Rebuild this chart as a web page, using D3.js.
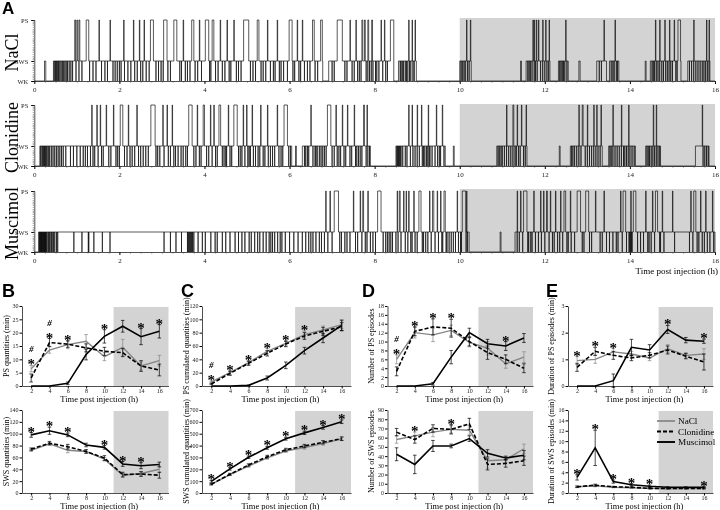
<!DOCTYPE html>
<html><head><meta charset="utf-8">
<script src="https://cdn.jsdelivr.net/npm/d3@7"></script>
<style>body{margin:0;background:#fff}svg{display:block;will-change:transform}</style>
</head><body>
<script>
// ---------------- DATA ----------------
const hours = [2,4,6,8,10,12,14,16];
const hypnoTicks = [0,2,4,6,8,10,12,14,16];
const stateLabels = ["WK","SWS","PS"];
const groups = ["NaCl","Clonidine","Muscimol"];

// Hypnograms: sleep bouts [start,end] (h), brief wake returns (h), PS episodes [start,end] (h)
const naclBouts = [[0.24,0.27],[0.45,6.78],[6.92,8.45],[8.56,8.98],[10.0,10.27],[11.43,11.45],[11.56,12.12],[12.32,12.55],[12.8,12.83],[13.22,13.45],[13.52,13.74],[14.36,14.38],[14.48,15.2],[15.36,15.88]];
const naclWake = [0.47,0.5,0.52,0.55,0.57,0.6,0.63,0.66,0.69,0.72,0.75,0.78,0.82,0.86,0.9,0.98,1.05,1.12,1.3,1.38,1.45,1.58,1.66,1.72,1.85,1.9,1.95,2.0,2.04,2.12,2.2,2.27,2.36,2.42,2.5,2.55,2.63,2.7,2.86,2.92,2.98,3.03,3.08,3.14,3.2,3.3,3.42,3.46,3.55,3.6,3.66,3.78,3.84,3.93,4.05,4.08,4.12,4.15,4.26,4.32,4.42,4.48,4.58,4.62,4.75,4.8,4.86,4.95,5.08,5.14,5.2,5.33,5.38,5.44,5.55,5.62,5.66,5.72,5.76,5.8,5.86,5.95,6.04,6.08,6.12,6.22,6.26,6.35,6.42,6.48,6.6,6.66,7.0,7.05,7.3,7.35,7.47,7.52,7.6,7.64,7.68,7.72,7.77,7.8,7.84,7.88,7.92,7.96,8.02,8.05,8.1,8.19,8.26,8.3,8.6,8.62,8.65,8.68,8.72,8.75,8.78,8.82,8.85,8.9,8.93,8.96,10.03,10.06,10.1,10.13,10.18,10.22,11.6,11.63,11.66,11.7,11.75,11.78,11.82,11.86,11.9,11.95,12.0,12.05,12.09,12.35,12.38,12.41,12.44,12.47,12.52,13.28,13.33,13.4,13.56,13.6,13.63,13.68,13.71,14.52,14.55,14.58,14.62,14.66,14.7,14.75,14.79,14.84,14.88,14.92,14.96,15.0,15.05,15.08,15.11,15.14,15.17,15.4,15.45,15.5,15.55,15.6,15.65,15.7,15.74,15.78,15.82,15.86];
const naclPS = [[0.95,0.97],[1.0,1.02],[1.05,1.07],[1.22,1.28],[1.52,1.53],[1.78,1.79],[2.1,2.11],[2.33,2.34],[2.47,2.48],[2.58,2.59],[2.73,2.8],[3.04,3.12],[3.28,3.35],[3.5,3.51],[3.7,3.75],[3.88,3.89],[4.02,4.1],[4.18,4.22],[4.37,4.38],[4.53,4.54],[4.69,4.7],[4.92,5.04],[5.24,5.28],[5.48,5.49],[5.71,5.72],[5.99,6.06],[6.18,6.19],[6.3,6.31],[6.54,6.58],[6.73,6.77],[7.12,7.24],[7.42,7.43],[7.56,7.57],[7.7,7.72],[7.76,7.78],[7.84,7.86],[7.93,7.95],[8.15,8.16],[8.23,8.24],[8.37,8.45],[8.8,8.81],[8.88,8.89],[8.95,8.96],[10.16,10.17],[10.25,10.26],[11.72,11.73],[11.75,11.76],[11.8,11.81],[11.85,11.86],[11.95,11.96],[12.02,12.03],[12.1,12.11],[12.49,12.5],[13.39,13.4],[13.65,13.66],[14.6,14.61],[14.7,14.71],[14.82,14.83],[14.93,14.94],[15.04,15.05],[15.13,15.19],[15.5,15.51],[15.8,15.81],[15.86,15.87]];

const clonBouts = [[0.13,6.05],[6.14,6.16],[6.3,7.9],[8.5,9.66],[9.85,9.87],[10.87,11.58],[12.34,12.36],[12.6,13.35],[13.5,14.13],[14.37,14.72],[15.54,15.86]];
const clonWake = [0.15,0.18,0.2,0.22,0.24,0.26,0.28,0.3,0.33,0.36,0.4,0.44,0.48,0.52,0.56,0.6,0.64,0.68,0.74,0.85,0.92,1.0,1.08,1.15,1.2,1.25,1.32,1.38,1.42,1.5,1.58,1.62,1.75,1.8,1.92,1.96,2.0,2.05,2.12,2.18,2.25,2.3,2.36,2.45,2.5,2.56,2.62,2.68,2.86,2.9,2.95,3.05,3.15,3.2,3.28,3.32,3.38,3.45,3.5,3.56,3.6,3.75,3.8,3.88,3.92,4.05,4.1,4.18,4.26,4.3,4.42,4.46,4.5,4.52,4.6,4.64,4.74,4.8,4.84,4.88,4.95,5.02,5.05,5.08,5.15,5.2,5.26,5.3,5.38,5.42,5.5,5.55,5.6,5.65,5.75,5.8,5.84,5.9,5.98,6.02,6.35,6.38,6.42,6.45,6.55,6.6,6.62,6.65,6.7,6.74,6.78,6.82,6.86,7.0,7.05,7.12,7.16,7.2,7.28,7.32,7.42,7.46,7.55,7.58,7.62,7.66,7.7,7.8,7.84,7.88,8.52,8.54,8.56,8.58,8.6,8.62,8.66,8.72,8.76,8.84,8.9,8.95,9.0,9.05,9.12,9.15,9.18,9.22,9.25,9.28,9.3,9.35,9.42,9.48,9.52,9.55,9.6,9.63,10.9,10.93,10.97,11.0,11.05,11.1,11.15,11.2,11.25,11.3,11.33,11.38,11.42,11.46,11.5,11.54,12.63,12.66,12.7,12.75,12.8,12.85,12.9,12.95,13.0,13.05,13.1,13.15,13.2,13.25,13.3,13.53,13.56,13.6,13.65,13.7,13.75,13.8,13.85,13.88,13.92,13.96,14.0,14.05,14.1,14.4,14.43,14.46,14.5,14.54,14.58,14.62,14.66,14.7,15.72,15.76,15.8,15.84];
const clonPS = [[1.35,1.36],[1.47,1.48],[1.55,1.56],[1.69,1.7],[1.86,1.87],[2.02,2.08],[2.21,2.22],[2.41,2.42],[2.74,2.84],[3.02,3.03],[3.12,3.13],[3.24,3.25],[3.63,3.71],[3.83,3.84],[3.97,4.0],[4.14,4.15],[4.22,4.23],[4.34,4.38],[4.56,4.57],[4.69,4.77],[4.91,4.92],[4.99,5.0],[5.12,5.13],[5.32,5.33],[5.48,5.49],[5.71,5.72],[5.87,5.95],[6.5,6.51],[6.89,6.97],[7.09,7.1],[7.24,7.25],[7.36,7.37],[7.52,7.53],[7.74,7.76],[7.82,7.83],[8.8,8.81],[8.88,8.89],[9.0,9.01],[9.1,9.11],[9.26,9.27],[9.45,9.46],[9.59,9.6],[11.1,11.11],[11.25,11.27],[11.35,11.36],[11.45,11.46],[11.56,11.57],[12.8,12.81],[12.88,12.9],[13.0,13.01],[13.15,13.16],[13.22,13.23],[13.32,13.33],[13.6,13.61],[13.8,13.81],[13.97,13.98],[14.55,14.56],[14.62,14.63],[15.7,15.71]];

const muscBouts = [[0.1,10.22],[10.95,10.97],[11.3,16]];
const muscWake = [0.12,0.13,0.14,0.15,0.16,0.17,0.18,0.19,0.2,0.21,0.22,0.23,0.24,0.25,0.26,0.27,0.28,0.3,0.33,0.35,0.37,0.4,0.42,0.45,0.48,0.52,0.55,0.93,1.12,1.27,1.28,1.4,1.6,1.78,3.05,3.2,3.33,3.46,3.6,3.62,3.64,3.66,3.68,3.7,3.72,3.75,3.85,3.95,4.02,4.15,4.25,4.3,4.42,4.5,4.6,4.72,4.8,4.88,4.95,5.05,5.1,5.18,5.25,5.3,5.38,5.45,5.52,5.56,5.6,5.65,5.72,5.78,5.82,5.9,6.0,6.1,6.2,6.3,6.38,6.45,6.5,6.55,6.62,6.7,6.75,6.82,6.9,7.0,7.18,7.22,7.3,7.35,7.42,7.55,7.6,7.7,7.78,7.82,7.9,7.96,8.02,8.2,8.26,8.3,8.34,8.38,8.42,8.5,8.55,8.62,8.72,8.78,8.85,8.88,8.95,9.0,9.12,9.15,9.2,9.25,9.33,9.42,9.5,9.58,9.6,9.68,9.7,9.75,9.8,9.85,9.9,9.97,10.02,10.04,10.15,10.18,11.35,11.4,11.48,11.6,11.62,11.67,11.7,11.78,11.85,11.92,12.0,12.1,12.18,12.22,12.3,12.35,12.42,12.52,12.55,12.62,12.7,12.88,12.92,13.05,13.1,13.3,13.35,13.45,13.52,13.6,13.68,13.72,13.82,13.92,13.98,14.0,14.01,14.04,14.05,14.18,14.25,14.32,14.42,14.45,14.5,14.58,14.7,14.72,14.8,15.05,15.4,15.48,15.58,15.62,15.7,15.75,15.82,15.88,15.97];
const muscPS = [[6.85,6.86],[6.95,6.96],[7.05,7.15],[7.5,7.51],[7.66,7.67],[7.72,7.74],[7.84,7.85],[8.07,8.15],[8.53,8.54],[8.58,8.6],[8.68,8.69],[8.74,8.75],[8.8,8.81],[8.92,8.93],[9.04,9.09],[9.29,9.3],[9.36,9.39],[9.47,9.48],[9.55,9.56],[9.63,9.66],[9.94,9.95],[10.06,10.14],[10.16,10.17],[11.35,11.36],[11.43,11.44],[11.5,11.58],[11.74,11.75],[11.9,11.91],[11.97,11.98],[12.04,12.06],[12.13,12.14],[12.25,12.26],[12.37,12.38],[12.45,12.49],[12.6,12.61],[12.76,12.84],[12.96,13.03],[13.19,13.2],[13.39,13.4],[13.78,13.79],[13.84,13.9],[14.02,14.03],[14.08,14.14],[14.37,14.38],[14.53,14.54],[14.6,14.65],[14.76,14.77],[15.0,15.01],[15.43,15.44],[15.5,15.55],[15.66,15.67],[15.78,15.79],[15.94,15.95]];

// Panel B: PS / SWS quantities (min)
const psQtyNaCl = [6.5,13.5,15.5,16.8,11,14.5,7.5,9.5];
const psQtyNaClErr = [1.2,1.2,1.5,2.5,1.5,3,1.5,2];
const psQtyClon = [3,16.3,15.7,14.3,13,12.5,7.5,6];
const psQtyClonErr = [1.5,1.5,1.2,1.5,1.5,1.5,2,2.2];
const psQtyMusc = [0,0,1,11.8,18.6,22.4,18.5,20.5];
const psQtyMuscErr = [0,0,0.5,2,2.5,2.2,3,2.5];
const swsQtyNaCl = [72,83,72,70,57,30,33,40];
const swsQtyNaClErr = [2,2,4,3,3,3,3,5];
const swsQtyClon = [74,84,78,70,59,31,32,30];
const swsQtyClonErr = [2,3,4,3,4,4,4,5];
const swsQtyMusc = [98,105,98,81,77,49,46,48];
const swsQtyMuscErr = [4,6,3,3,3,4,5,4];
// Panel C: cumulated quantities (min)
const psCumNaCl = [6,20,35,52,64,77,84,92];
const psCumNaClErr = [1,3,3,4,4,5,6,6];
const psCumClon = [3,19,34,49,63,75,82,89];
const psCumClonErr = [1,3,3,4,4,5,6,6];
const psCumMusc = [0,0,1,12,31,53,72,91];
const psCumMuscErr = [0,0,0.5,3,5,5,7,8];
const swsCumNaCl = [72,155,227,297,354,384,417,457];
const swsCumNaClErr = [5,8,10,12,12,14,14,15];
const swsCumClon = [74,158,236,306,365,396,428,458];
const swsCumClonErr = [5,8,10,12,12,14,14,15];
const swsCumMusc = [98,203,301,381,458,507,553,601];
const swsCumMuscErr = [8,10,10,12,12,14,15,15];
// Panel D: number of episodes
const psNbNaCl = [6,12,11.5,12.5,9.8,8.5,5,6.5];
const psNbNaClErr = [1,1.2,1.5,1.2,1,1.5,1,1.2];
const psNbClon = [3.3,12.3,13.3,13,10,7.5,6,4];
const psNbClonErr = [1,1,1.8,2,1,1.5,1,1];
const psNbMusc = [0,0,0.5,6.5,12,9.5,9,10.8];
const psNbMuscErr = [0,0,0.3,1.5,1,1,1,1];
const swsNbNaCl = [58,62,66,69,68,35,36,48];
const swsNbNaClErr = [4,4,5,4,5,8,3,5];
const swsNbClon = [66,58,70,69,75,31,32,35];
const swsNbClonErr = [4,4,4,5,6,6,4,5];
const swsNbMusc = [42,31,51,51,59,43,38,41];
const swsNbMuscErr = [7,10,6,2,3,4,2,5];
// Panel E: duration of episodes (min)
const psDurNaCl = [0.95,1.0,1.28,1.2,1.05,1.4,1.15,1.2];
const psDurNaClErr = [0.15,0.15,0.12,0.1,0.1,0.15,0.1,0.2];
const psDurClon = [0.7,1.3,1.15,1.05,1.15,1.35,1.12,0.9];
const psDurClonErr = [0.15,0.15,0.15,0.1,0.1,0.15,0.1,0.3];
const psDurMusc = [0,0,0.2,1.45,1.35,2.12,1.72,1.68];
const psDurMuscErr = [0,0,0.25,0.3,0.2,0.15,0.1,0.08];
const swsDurNaCl = [1.2,1.4,1.1,1.0,0.9,0.8,0.85,0.85];
const swsDurNaClErr = [0.15,0.2,0.1,0.1,0.1,0.1,0.1,0.1];
const swsDurClon = [1.2,1.5,1.2,1.1,0.9,0.9,0.9,0.9];
const swsDurClonErr = [0.15,0.2,0.1,0.1,0.1,0.1,0.1,0.1];
const swsDurMusc = [3.0,8.7,2.2,1.6,1.3,1.1,1.1,1.1];
const swsDurMuscErr = [0.5,3.4,0.3,0.2,0.2,0.1,0.1,0.1];

// significance marks (hours)
const starsPsQty=[2,4,6,10,14,16], hashPsQty=[2,4];
const starsSwsQty=[2,4,6,10,12,14], hashSwsQty=[];
const starsPsCum=[2,4,6,8,10,12], hashPsCum=[2];
const starsSwsCum=[2,4,6,8,10,12,14,16], hashSwsCum=[];
const starsPsNb=[2,4,6,8,14], hashPsNb=[2];
const starsSwsNb=[4,8], hashSwsNb=[];
const starsPsDur=[2,4,6,12,16], hashPsDur=[];
const starsSwsDur=[2,4,6,8,10,16], hashSwsDur=[];

// ---------------- DRAW ----------------
const W=720,H=510;
const serif="'Liberation Serif','Times New Roman',Times,serif";
const sans="'Liberation Sans',Arial,Helvetica,sans-serif";
const SHADE="#d3d3d3";
const svg=d3.select("body").append("svg").attr("width",W).attr("height",H)
  .style("font-family",serif);

// ---- Panel A ----
const hx=d3.scaleLinear().domain([0,16]).range([34.3,715]);
const hypnos=[
  {name:groups[0],bouts:naclBouts,wake:naclWake,ps:naclPS,y:[81,61,20],shadeTop:18},
  {name:groups[1],bouts:clonBouts,wake:clonWake,ps:clonPS,y:[166,146,105],shadeTop:104},
  {name:groups[2],bouts:muscBouts,wake:muscWake,ps:muscPS,y:[252,232,191],shadeTop:189}
];
function hypnoPoints(h){
  const pts=[[0,0]];
  h.bouts.forEach(([s,e])=>{
    pts.push([s,0],[s,1]);
    const ev=[...h.wake.filter(t=>t>s&&t<e).map(t=>({t,k:"w"})),
              ...h.ps.filter(p=>p[0]>s&&p[0]<e).map(p=>({t:p[0],e:Math.min(p[1],e),k:"p"}))]
             .sort((a,b)=>a.t-b.t);
    let psEnd=-1;
    ev.forEach(v=>{
      if(v.k==="w"){ if(v.t>psEnd) pts.push([v.t,1],[v.t,0],[v.t,1]); }
      else { pts.push([v.t,1],[v.t,2],[v.e,2],[v.e,1]); psEnd=v.e; }
    });
    pts.push([e,1],[e,0]);
  });
  pts.push([16,0]);
  return pts;
}
hypnos.forEach((h,i)=>{
  const hy=d3.scaleLinear().domain([0,1,2]).range(h.y);
  const g=svg.append("g");
  g.append("rect").attr("x",hx(10)).attr("y",h.shadeTop).attr("width",hx(16)-hx(10))
    .attr("height",h.y[0]-h.shadeTop).attr("fill",SHADE);
  g.append("path").datum(hypnoPoints(h))
    .attr("d",d3.line().x(d=>hx(d[0])).y(d=>hy(d[1])))
    .attr("fill","none").attr("stroke","#111").attr("stroke-width",0.7);
  const ax=g.append("g").attr("transform",`translate(0,${h.y[0]})`)
    .call(d3.axisBottom(hx).tickValues(hypnoTicks).tickSize(3).tickSizeOuter(0).tickFormat(d3.format("d")));
  ax.selectAll("text").attr("font-size",7).attr("font-family",serif).attr("y",6).attr("fill","#222");
  ax.select(".domain").attr("stroke","#222").attr("stroke-width",0.8);
  g.append("g").attr("transform",`translate(0,${h.y[0]})`)
    .call(d3.axisBottom(hx).tickValues(d3.range(0,16.001,0.25)).tickSize(1.8).tickFormat(""))
    .call(s=>s.select(".domain").remove()).selectAll("line").attr("stroke","#444").attr("stroke-width",0.5);
  const ya=g.append("g").attr("transform",`translate(${hx(0)},0)`)
    .call(d3.axisLeft(hy).tickValues([0,1,2]).tickSize(3).tickFormat(d=>stateLabels[d]));
  ya.selectAll("text").attr("font-size",6.5).attr("font-family",serif).attr("fill","#222");
  ya.select(".domain").attr("stroke","#222").attr("stroke-width",0.8);
  g.append("line").attr("x1",hx(0)-1).attr("x2",hx(0)-1).attr("y1",h.y[2]).attr("y2",h.y[0])
    .attr("stroke","#555").attr("stroke-width",1.2).attr("stroke-dasharray","0.6,1.2");
  g.append("text").attr("transform",`translate(18,${(h.y[0]+h.y[2])/2+2}) rotate(-90)`)
    .attr("text-anchor","middle").attr("font-size",18).text(h.name);
});
svg.append("text").attr("x",718).attr("y",274).attr("text-anchor","end").attr("font-size",9).text("Time post injection (h)");
svg.append("text").attr("x",2).attr("y",14).attr("font-family",sans).attr("font-weight","bold").attr("font-size",17).text("A");

// ---- Panels B-E ----
const series=[
  {key:"nacl",color:"#858585",dash:null,width:1.4},
  {key:"clon",color:"#000",dash:"4,2",width:1.6},
  {key:"musc",color:"#000",dash:null,width:1.6}
];
function panel(c){
  const x=d3.scaleLinear().domain([1,17]).range([c.x0,c.x1]);
  const y=d3.scaleLinear().domain([0,c.ymax]).range([c.yb,c.yt]);
  const g=svg.append("g");
  g.append("rect").attr("x",x(11)).attr("y",c.yt+1).attr("width",x(17)-x(11)).attr("height",c.yb-c.yt-1).attr("fill",SHADE);
  const ya=g.append("g").attr("transform",`translate(${c.x0},0)`)
    .call(d3.axisLeft(y).tickValues(d3.range(0,c.ymax+1e-9,c.step)).tickSize(2.5).tickSizeOuter(0).tickFormat(d3.format("~g")));
  ya.selectAll("text").attr("font-size",6).attr("font-family",serif).attr("fill","#222").attr("x",-3.5);
  ya.select(".domain").attr("stroke","#222").attr("stroke-width",0.8);
  const xa=g.append("g").attr("transform",`translate(0,${c.yb})`)
    .call(d3.axisBottom(x).tickValues(hours).tickSize(2.5).tickSizeOuter(0));
  xa.selectAll("text").attr("font-size",6).attr("font-family",serif).attr("fill","#222").attr("y",3).attr("dy","0.71em");
  xa.select(".domain").attr("stroke","#222").attr("stroke-width",0.8);
  g.append("text").attr("x",(c.x0+c.x1)/2+4).attr("y",c.yb+15.5).attr("text-anchor","middle").attr("font-size",8.5).text("Time post injection (h)");
  g.append("text").attr("transform",`translate(${c.labelX},${(c.yt+c.yb)/2}) rotate(-90)`)
    .attr("text-anchor","middle").attr("font-size",8).text(c.ylabel);
  const data=[[c.nacl,c.naclErr],[c.clon,c.clonErr],[c.musc,c.muscErr]];
  series.forEach((s,i)=>{
    const [vals,errs]=data[i];
    const pts=hours.map((h,j)=>({h,v:vals[j],e:errs[j]}));
    const eb=g.append("g").attr("stroke",s.color).attr("stroke-width",0.7);
    pts.forEach(p=>{
      if(p.e<=0) return;
      eb.append("line").attr("x1",x(p.h)).attr("x2",x(p.h)).attr("y1",y(p.v-p.e)).attr("y2",y(p.v+p.e));
      [p.v-p.e,p.v+p.e].forEach(v=>eb.append("line").attr("x1",x(p.h)-1.8).attr("x2",x(p.h)+1.8).attr("y1",y(v)).attr("y2",y(v)));
    });
    g.append("path").datum(pts).attr("d",d3.line().x(p=>x(p.h)).y(p=>y(p.v)))
      .attr("fill","none").attr("stroke",s.color).attr("stroke-width",s.width)
      .attr("stroke-dasharray",s.dash);
  });
  const top=h=>{const j=hours.indexOf(h);return Math.max(...data.map(([v,e])=>v[j]+e[j]));};
  c.stars.forEach(h=>{
    g.append("text").attr("x",x(h)).attr("y",y(top(h))+4).attr("text-anchor","middle")
      .attr("font-size",15).attr("font-weight","bold").text("*");
  });
  c.hash.forEach(h=>{
    g.append("text").attr("x",x(h)).attr("y",y(top(h))-13).attr("text-anchor","middle")
      .attr("font-size",9).attr("font-weight","bold").attr("font-style","italic").text("#");
  });
  if(c.letter) svg.append("text").attr("x",c.letterX).attr("y",297).attr("font-family",sans)
    .attr("font-weight","bold").attr("font-size",18).text(c.letter);
  if(c.legend){
    const lg=g.append("g");
    series.forEach((s,i)=>{
      const ly=421+i*10.5;
      lg.append("line").attr("x1",657).attr("x2",675).attr("y1",ly).attr("y2",ly)
        .attr("stroke",s.color).attr("stroke-width",s.width+0.3).attr("stroke-dasharray",s.dash);
      lg.append("text").attr("x",678).attr("y",ly+3.2).attr("font-size",9.2).text(groups[i]);
    });
  }
}
const TOP={yt:306,yb:386}, BOT={yt:410,yb:493};
const cols=[
  {x0:22,x1:168.5,labelX:9,letter:"B",letterX:2},
  {x0:202,x1:351,labelX:189,letter:"C",letterX:181},
  {x0:387.5,x1:533,labelX:374,letter:"D",letterX:362},
  {x0:568,x1:713,labelX:554,letter:"E",letterX:546}
];
panel({...cols[0],...TOP,ymax:30,step:5,ylabel:"PS quantities (min)",nacl:psQtyNaCl,naclErr:psQtyNaClErr,clon:psQtyClon,clonErr:psQtyClonErr,musc:psQtyMusc,muscErr:psQtyMuscErr,stars:starsPsQty,hash:hashPsQty});
panel({...cols[0],...BOT,letter:null,ymax:140,step:20,ylabel:"SWS quantities (min)",nacl:swsQtyNaCl,naclErr:swsQtyNaClErr,clon:swsQtyClon,clonErr:swsQtyClonErr,musc:swsQtyMusc,muscErr:swsQtyMuscErr,stars:starsSwsQty,hash:hashSwsQty});
panel({...cols[1],...TOP,ymax:120,step:20,ylabel:"PS cumulated quantities (min)",nacl:psCumNaCl,naclErr:psCumNaClErr,clon:psCumClon,clonErr:psCumClonErr,musc:psCumMusc,muscErr:psCumMuscErr,stars:starsPsCum,hash:hashPsCum});
panel({...cols[1],...BOT,letter:null,ymax:700,step:100,ylabel:"SWS cumulated quantities (min)",nacl:swsCumNaCl,naclErr:swsCumNaClErr,clon:swsCumClon,clonErr:swsCumClonErr,musc:swsCumMusc,muscErr:swsCumMuscErr,stars:starsSwsCum,hash:hashSwsCum});
panel({...cols[2],...TOP,ymax:18,step:2,ylabel:"Number of PS episodes",nacl:psNbNaCl,naclErr:psNbNaClErr,clon:psNbClon,clonErr:psNbClonErr,musc:psNbMusc,muscErr:psNbMuscErr,stars:starsPsNb,hash:hashPsNb});
panel({...cols[2],...BOT,letter:null,ymax:90,step:10,ylabel:"Number of SWS episodes",nacl:swsNbNaCl,naclErr:swsNbNaClErr,clon:swsNbClon,clonErr:swsNbClonErr,musc:swsNbMusc,muscErr:swsNbMuscErr,stars:starsSwsNb,hash:hashSwsNb});
panel({...cols[3],...TOP,ymax:3,step:1,ylabel:"Duration of PS episodes (min)",nacl:psDurNaCl,naclErr:psDurNaClErr,clon:psDurClon,clonErr:psDurClonErr,musc:psDurMusc,muscErr:psDurMuscErr,stars:starsPsDur,hash:hashPsDur});
panel({...cols[3],...BOT,letter:null,ymax:16,step:2,ylabel:"Duration of SWS episodes (min)",nacl:swsDurNaCl,naclErr:swsDurNaClErr,clon:swsDurClon,clonErr:swsDurClonErr,musc:swsDurMusc,muscErr:swsDurMuscErr,stars:starsSwsDur,hash:hashSwsDur,legend:true});
</script>
</body></html>
